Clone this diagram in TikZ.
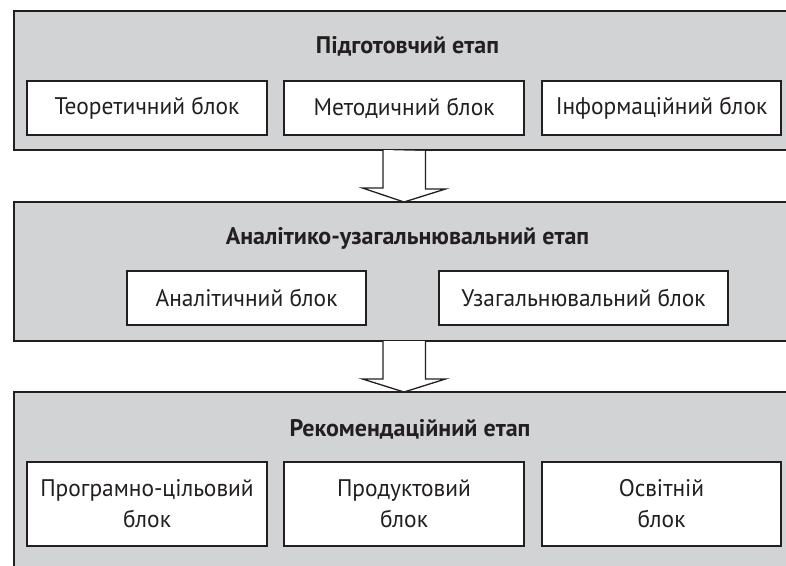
\documentclass[tikz,border=0pt]{standalone}
\usepackage{fontspec}
\setmainfont{PT Sans}
\newfontfamily\blockfont{PT Sans}[FakeStretch=0.975]
\usetikzlibrary{calc}
\definecolor{panelgray}{RGB}{209,211,212}
\definecolor{ink}{RGB}{35,31,32}
\begin{document}
\begin{tikzpicture}[x=1pt,y=-1pt,
  panel/.style={draw=ink, line width=1.7pt, fill=panelgray, rectangle, inner sep=0pt, outer sep=0pt, anchor=north west, minimum width=786pt},
  blockbox/.style={draw=ink, line width=1.8pt, fill=white, inner sep=0pt, outer sep=0pt, text=ink, align=center, font=\blockfont\fontsize{24}{31}\selectfont, minimum height=54pt},
  stagetitle/.style={font=\bfseries\fontsize{24}{28}\selectfont, text=ink, anchor=base, inner sep=0pt},
  arrowline/.style={draw=ink, line width=1.3pt, fill=white, line join=miter}]
\clip (0,0) rectangle (786,565);
% panels
\node[panel, minimum height=139pt] (p1) at (14,11) {};
\node[panel, minimum height=139pt] (p2) at (14,202) {};
\node[panel, minimum height=200pt] (p3) at (14,392) {};
% titles
\node[stagetitle] (t1) at (407.5,53.3) {Підготовчий етап};
\node[stagetitle] (t2) at (407.5,244) {Аналітико-узагальнювальний етап};
\node[stagetitle] (t3) at (410,436) {Рекомендаційний етап};
% blocks of stage 1
\node[blockbox, minimum width=240pt] (b11) at (147,108) {Теоретичний блок};
\node[blockbox, minimum width=240pt] (b12) at (404,108) {Методичний блок};
\node[blockbox, minimum width=239pt] (b13) at (661.5,108) {Інформаційний блок};
% blocks of stage 2
\node[blockbox, minimum width=239pt] (b21) at (246.5,298) {Аналітичний блок};
\node[blockbox, minimum width=289pt] (b22) at (583.5,298) {Узагальнювальний блок};
% blocks of stage 3
\node[blockbox, minimum width=240pt, minimum height=84pt] (b31) at (147,504) {Програмно-цільовий\\блок};
\node[blockbox, minimum width=240pt, minimum height=84pt] (b32) at (404,504) {Продуктовий\\блок};
\node[blockbox, minimum width=239pt, minimum height=84pt] (b33) at (661.5,504) {Освітній\\блок};
% arrows between stages
\coordinate (a1) at ([xshift=-3pt]p1.south);
\coordinate (a2) at ([xshift=-3pt]p2.south);
\draw[arrowline] ([xshift=-21pt]a1) -- ++(0,38) -- ++(-20.5,0) -- (a1 |- p2.north) -- ++(41.5,-13) -- ++(-20,0) -- ++(0,-38);
\draw[arrowline] ([xshift=-21pt]a2) -- ++(0,38) -- ++(-20.5,0) -- (a2 |- p3.north) -- ++(41.5,-13) -- ++(-20,0) -- ++(0,-38);
\end{tikzpicture}
\end{document}
